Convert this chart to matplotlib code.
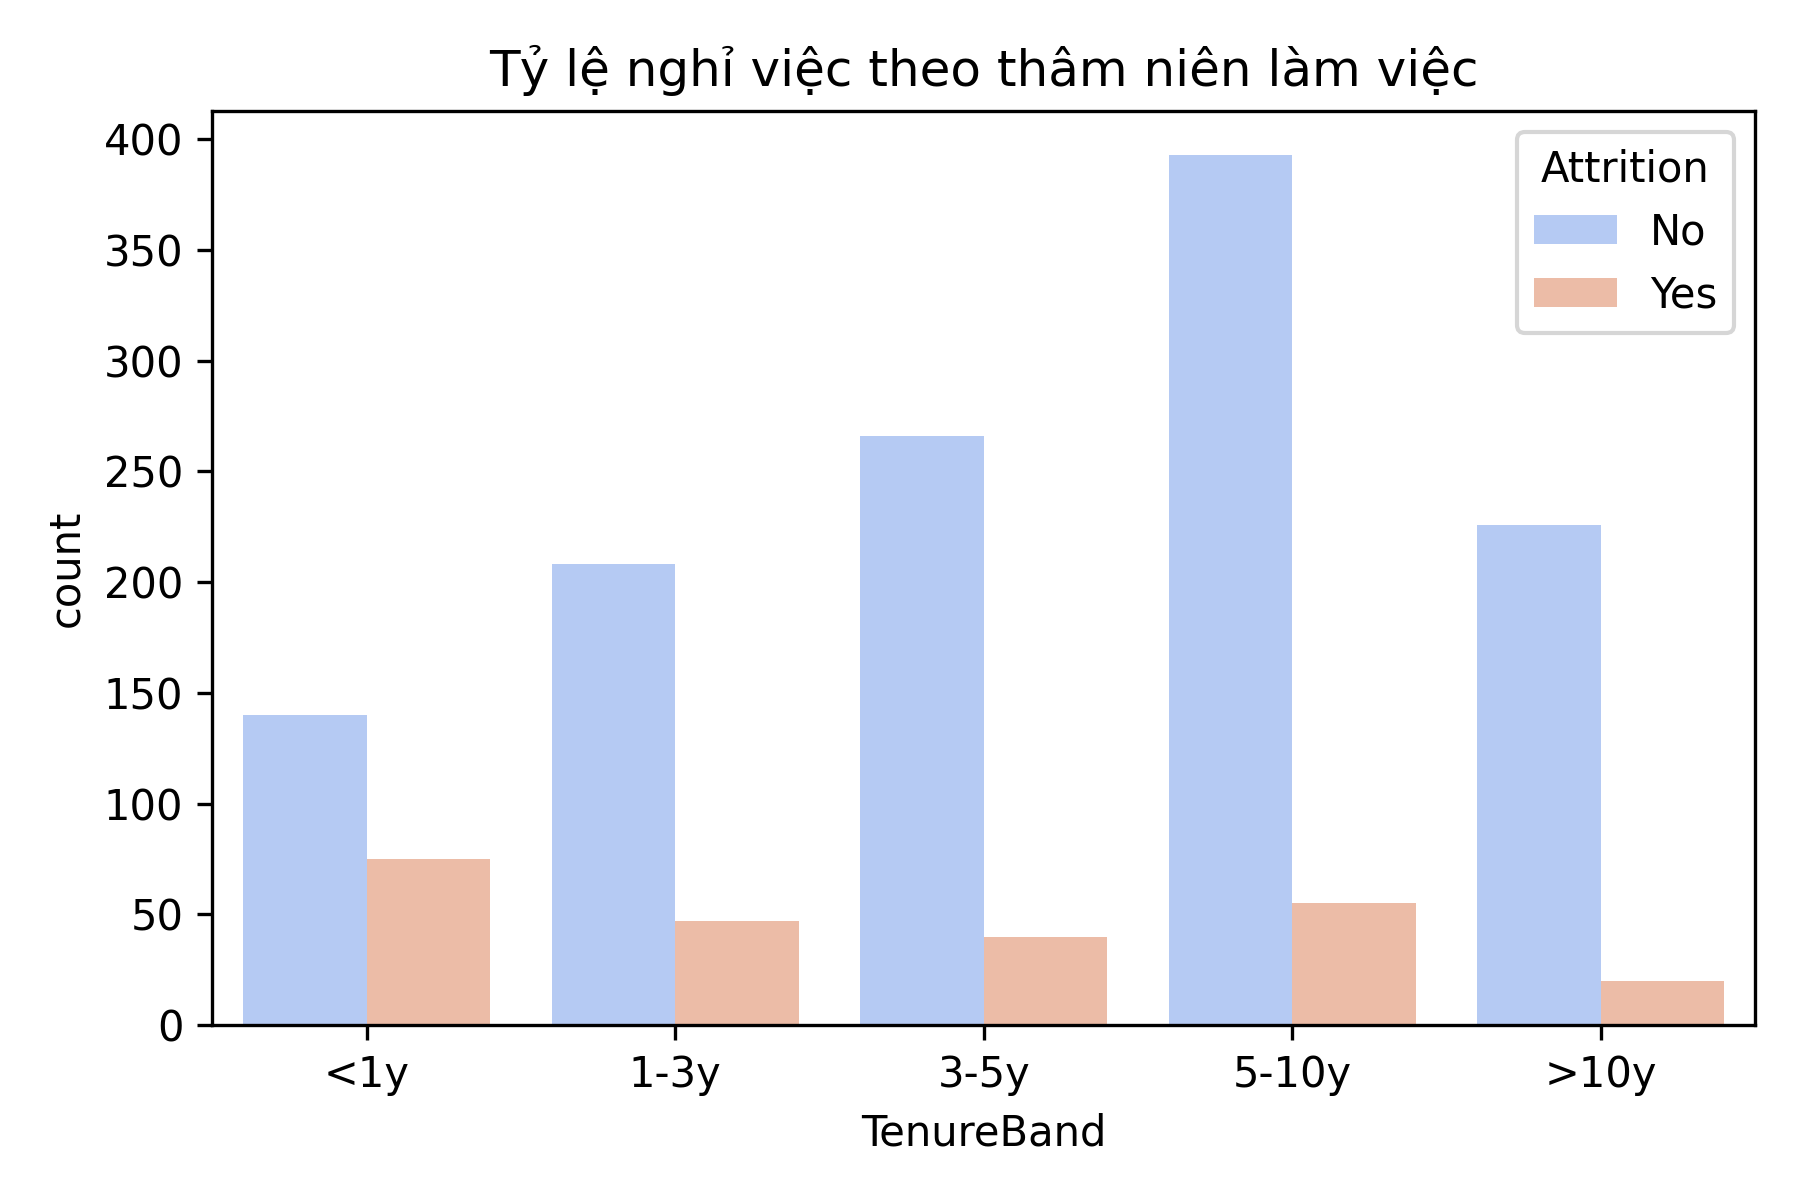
import matplotlib
matplotlib.use("Agg")
import matplotlib.pyplot as plt
import seaborn as sns
import pandas as pd

bands = ["<1y", "1-3y", "3-5y", "5-10y", ">10y"]
no_counts = [140, 208, 266, 393, 226]
yes_counts = [75, 47, 40, 55, 20]

df = pd.DataFrame({
    "TenureBand": bands * 2,
    "Attrition": ["No"] * 5 + ["Yes"] * 5,
    "count": no_counts + yes_counts,
})

fig, ax = plt.subplots(figsize=(6, 4), dpi=300)
sns.barplot(data=df, x="TenureBand", y="count", hue="Attrition",
            palette="coolwarm", order=bands, ax=ax)
ax.set_title("Tỷ lệ nghỉ việc theo thâm niên làm việc")
ax.legend(title="Attrition", loc="upper right")
fig.tight_layout()
fig.savefig("out.png", dpi=300)
